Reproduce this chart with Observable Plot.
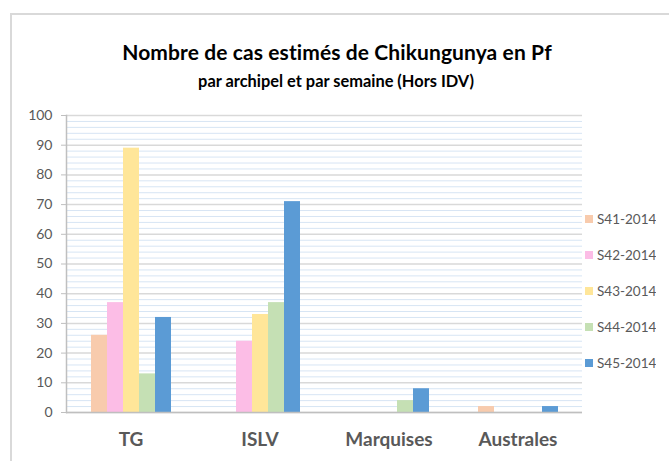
<!DOCTYPE html>
<html>
<head>
<meta charset="utf-8">
<script src="https://cdn.jsdelivr.net/npm/d3@7"></script>
<script src="https://cdn.jsdelivr.net/npm/@observablehq/plot@0.6"></script>
<style>
html, body { margin: 0; padding: 0; background: #fff; overflow: hidden; width: 669px; height: 461px; }
#wrap { position: relative; width: 669px; height: 461px; overflow: hidden; }
#border { position: absolute; left: 10px; top: 13px; width: 800px; height: 600px; border: 2px solid #d9d9d9; box-sizing: border-box; }
#title { position: absolute; left: 0; width: 674px; top: 41px; text-align: center; font-family: Lato; font-weight: bold; font-size: 21px; line-height: 21px; letter-spacing: 0.1px; color: #000; white-space: nowrap; }
#subtitle { position: absolute; left: 0; width: 672px; top: 73px; text-align: center; font-family: Lato; font-weight: bold; font-size: 16.4px; line-height: 16.4px; color: #000; white-space: nowrap; }
#chart { position: absolute; left: 0; top: 100px; }
#legend { position: absolute; left: 585px; top: 201px; }
.lg-swatches { margin: 0 !important; font-family: Lato !important; font-size: 13.5px !important; color: #595959 !important; }
.lg-swatches-columns { columns: 1 !important; }
.lg-swatch { height: 36px; display: flex !important; align-items: center; padding: 0 !important; margin: 0 !important; }
.lg-swatch > svg { margin-right: 4px !important; }
</style>
</head>
<body>
<div id="wrap">
  <div id="border"></div>
  <div id="title">Nombre de cas estimés de Chikungunya en Pf</div>
  <div id="subtitle">par archipel et par semaine (Hors IDV)</div>
  <div id="chart"></div>
  <div id="legend"></div>
</div>
<script>
// Categories (archipelagos) and series (weeks)
const categories = ["TG", "ISLV", "Marquises", "Australes"];
const series = ["S41-2014", "S42-2014", "S43-2014", "S44-2014", "S45-2014"];

// Values per series, in category order
const s41 = [26, 0, 0, 2];
const s42 = [37, 24, 0, 0];
const s43 = [89, 33, 0, 0];
const s44 = [13, 37, 4, 0];
const s45 = [32, 71, 8, 2];

const seriesColors = ["#f8cbad", "#fcbde6", "#ffe699", "#c5e0b4", "#5b9bd5"];

// Tick values
const yTicks = [0, 10, 20, 30, 40, 50, 60, 70, 80, 90, 100];
const yMinorTicks = [2, 4, 6, 8, 12, 14, 16, 18, 22, 24, 26, 28, 32, 34, 36, 38, 42, 44, 46, 48,
  52, 54, 56, 58, 62, 64, 66, 68, 72, 74, 76, 78, 82, 84, 86, 88, 92, 94, 96, 98];

const valuesBySeries = [s41, s42, s43, s44, s45];
const data = categories.flatMap((c, i) =>
  series.map((s, j) => ({category: c, series: s, value: valuesBySeries[j][i]}))
);

const chart = Plot.plot({
  width: 669,
  height: 361,
  marginLeft: 66,
  marginRight: 87,
  marginTop: 15,
  marginBottom: 49,
  style: {fontFamily: "Lato", background: "transparent", overflow: "visible"},
  fx: {domain: categories, padding: 0, label: null},
  x: {domain: series, paddingInner: 0, paddingOuter: 1.53, axis: null},
  y: {domain: [0, 100], label: null},
  color: {domain: series, range: seriesColors},
  marks: [
    Plot.gridY(yMinorTicks, {stroke: "#d7e5f4", strokeOpacity: 1, strokeWidth: 1}),
    Plot.gridY(yTicks, {stroke: "#d9d9d9", strokeOpacity: 1, strokeWidth: 1.5}),
    Plot.barY(data, {fx: "category", x: "series", y: "value", fill: "series"}),
    Plot.ruleY([0], {stroke: "#bfbfbf", strokeWidth: 1.5}),
    Plot.frame({anchor: "left", facetAnchor: "left", stroke: "#bfbfbf", strokeWidth: 1.5}),
    Plot.axisY(yTicks, {tickSize: 5, tickPadding: 9, fontSize: 14, fill: "#595959", stroke: "#bfbfbf", label: null}),
    Plot.axisFx({anchor: "bottom", tickSize: 0, tickPadding: 20, fontSize: 19, fontWeight: "bold", fill: "#595959", label: null})
  ]
});
document.getElementById("chart").appendChild(chart);

const legend = Plot.legend({
  color: {domain: series, range: seriesColors, type: "ordinal"},
  columns: 1,
  swatchSize: 8,
  className: "lg"
});
document.getElementById("legend").appendChild(legend);
</script>
</body>
</html>
